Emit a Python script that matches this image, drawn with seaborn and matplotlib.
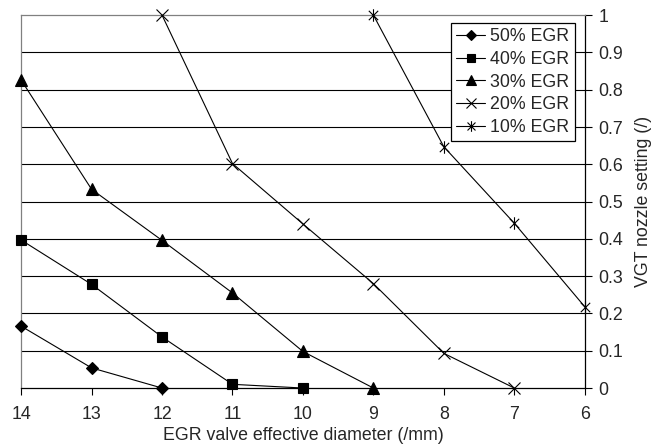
import matplotlib
matplotlib.use("Agg")
import matplotlib.pyplot as plt
from matplotlib.path import Path
import seaborn as sns

sns.set_style("white")
plt.rcParams['font.family'] = ['Liberation Sans', 'DejaVu Sans']

x50 = [14, 13, 12]
y50 = [0.166, 0.054, 0.0]
x40 = [14, 13, 12, 11, 10]
y40 = [0.397, 0.278, 0.137, 0.010, 0.0]
x30 = [14, 13, 12, 11, 10, 9]
y30 = [0.826, 0.533, 0.396, 0.255, 0.098, 0.0]
x20 = [12, 11, 10, 9, 8, 7]
y20 = [1.0, 0.602, 0.440, 0.280, 0.093, 0.0]
x10 = [9, 8, 7, 6]
y10 = [1.0, 0.647, 0.442, 0.218]
labels = ["50% EGR", "40% EGR", "30% EGR", "20% EGR", "10% EGR"]
xticks = [14, 13, 12, 11, 10, 9, 8, 7, 6]
yticks = [0, 0.1, 0.2, 0.3, 0.4, 0.5, 0.6, 0.7, 0.8, 0.9, 1]
ytick_labels = ["0", "0.1", "0.2", "0.3", "0.4", "0.5", "0.6", "0.7", "0.8", "0.9", "1"]

star = Path([(0, -1), (0, 1), (-0.75, -0.75), (0.75, 0.75), (-0.75, 0.75), (0.75, -0.75)],
            [Path.MOVETO, Path.LINETO, Path.MOVETO, Path.LINETO, Path.MOVETO, Path.LINETO])

FS = 12.8
fig = plt.figure(figsize=(6.6, 4.45), dpi=100)
ax = fig.add_axes([0.032, 0.128, 0.854, 0.838])

series = [
    (x50, y50, 'D', 6.5, 0.8),
    (x40, y40, 's', 7.5, 0.8),
    (x30, y30, '^', 8, 0.8),
    (x20, y20, 'x', 8, 0.8),
    (x10, y10, star, 9, 0.8),
]
for (xs, ys, m, ms, mew), lab in zip(series, labels):
    sns.lineplot(x=xs, y=ys, ax=ax, color='black', marker=m, markersize=ms,
                 markeredgewidth=mew, markeredgecolor='black', markerfacecolor='black',
                 linewidth=0.8, label=lab, clip_on=False, zorder=3)

ax.set_xlim(14, 6)
ax.set_ylim(0, 1)
ax.set_xticks(xticks)
ax.set_xticklabels([str(t) for t in xticks], fontsize=FS)
ax.set_yticks(yticks)
ax.set_yticklabels(ytick_labels, fontsize=FS)
ax.yaxis.tick_right()
ax.yaxis.set_label_position("right")
ax.tick_params(axis='y', which='both', direction='out', length=5, width=0.8,
               color='black', left=False, right=True, pad=5)
ax.tick_params(axis='x', direction='out', length=5, width=0.8, color='black',
               bottom=True, pad=8)
for yv in yticks[1:-1]:
    ax.axhline(yv, color='black', linewidth=0.8, zorder=1)
ax.spines['left'].set_color('#808080')
ax.spines['top'].set_color('#808080')
ax.spines['right'].set_color('black')
ax.spines['bottom'].set_color('black')
for s in ax.spines.values():
    s.set_linewidth(0.9)

ax.set_xlabel("EGR valve effective diameter (/mm)", fontsize=FS, labelpad=3)
ax.set_ylabel("VGT nozzle setting (/)", fontsize=FS, labelpad=8)

leg = ax.legend(loc='upper right', bbox_to_anchor=(0.982, 0.979), fontsize=FS,
                frameon=True, fancybox=False, edgecolor='black', framealpha=1,
                handlelength=1.6, handletextpad=0.3, borderpad=0.3,
                labelspacing=0.32, borderaxespad=0, markerscale=0.85)
leg.get_frame().set_linewidth(0.9)

fig.savefig("out.png", dpi=100)
